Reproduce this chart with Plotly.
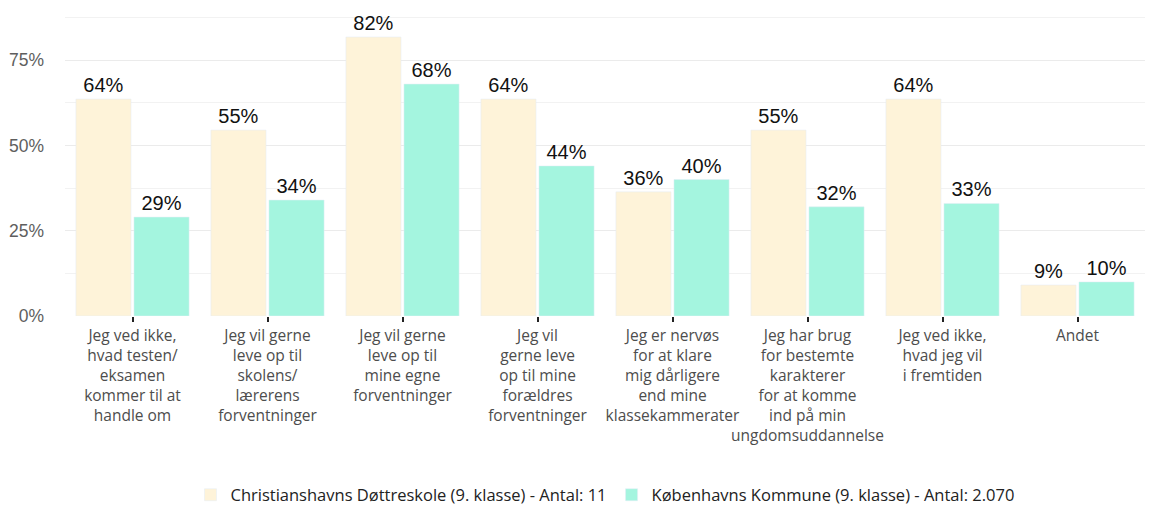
import plotly.graph_objects as go

categories = [
    "Jeg ved ikke,<br>hvad testen/<br>eksamen<br>kommer til at<br>handle om",
    "Jeg vil gerne<br>leve op til<br>skolens/<br>lærerens<br>forventninger",
    "Jeg vil gerne<br>leve op til<br>mine egne<br>forventninger",
    "Jeg vil<br>gerne leve<br>op til mine<br>forældres<br>forventninger",
    "Jeg er nervøs<br>for at klare<br>mig dårligere<br>end mine<br>klassekammerater",
    "Jeg har brug<br>for bestemte<br>karakterer<br>for at komme<br>ind på min<br>ungdomsuddannelse",
    "Jeg ved ikke,<br>hvad jeg vil<br>i fremtiden",
    "Andet",
]
school_name = "Christianshavns Døttreskole (9. klasse) - Antal: 11"
school_values = [0.636, 0.545, 0.818, 0.636, 0.364, 0.545, 0.636, 0.091]
kommune_name = "Københavns Kommune (9. klasse) - Antal: 2.070"
kommune_values = [0.29, 0.34, 0.68, 0.44, 0.40, 0.32, 0.33, 0.10]
y_ticks = [0, 0.25, 0.5, 0.75]
y_tick_labels = ["0%", "25%", "50%", "75%"]

fig = go.Figure()
for name, vals, col in [(school_name, school_values, "#FEF3D9"),
                        (kommune_name, kommune_values, "#A4F5DF")]:
    fig.add_trace(go.Bar(
        x=categories, y=vals, name=name, marker_color=col,
        texttemplate="%{y:.0%}", textposition="outside", cliponaxis=False,
        textfont=dict(family="Liberation Sans, Arial", size=20, color="#111111"),
    ))

fig.update_layout(
    width=1149, height=507,
    margin=dict(l=65, r=4, t=9, b=191, autoexpand=False),
    paper_bgcolor="white", plot_bgcolor="white",
    barmode="group", bargap=0.14, bargroupgap=0.05,
    showlegend=True,
    legend=dict(orientation="h", x=0.5, xanchor="center", y=-0.583, yanchor="middle",
                font=dict(family="Open Sans", size=16.5, color="#222222"),
                itemwidth=30, traceorder="normal"),
    font=dict(family="Open Sans"),
)
fig.update_xaxes(
    ticks="outside", ticklen=5, tickcolor="#222222", tickwidth=1.5,
    tickfont=dict(family="Open Sans", size=15.5, color="#4d4d4d"),
    showgrid=False, showline=False, tickangle=0, automargin=False,
)
fig.update_yaxes(
    range=[0, 0.9], tickvals=y_ticks, ticktext=y_tick_labels,
    tickfont=dict(family="Liberation Sans, Arial", size=17.5, color="#5e5e5e"),
    showgrid=True, gridcolor="#EBEBEB", gridwidth=1.2,
    minor=dict(dtick=0.125, tick0=0, showgrid=True, gridcolor="#F2F2F2", gridwidth=1),
    zeroline=False, showline=False, ticks="", ticklabelstandoff=20, automargin=False,
)
fig.write_html("out.html")
